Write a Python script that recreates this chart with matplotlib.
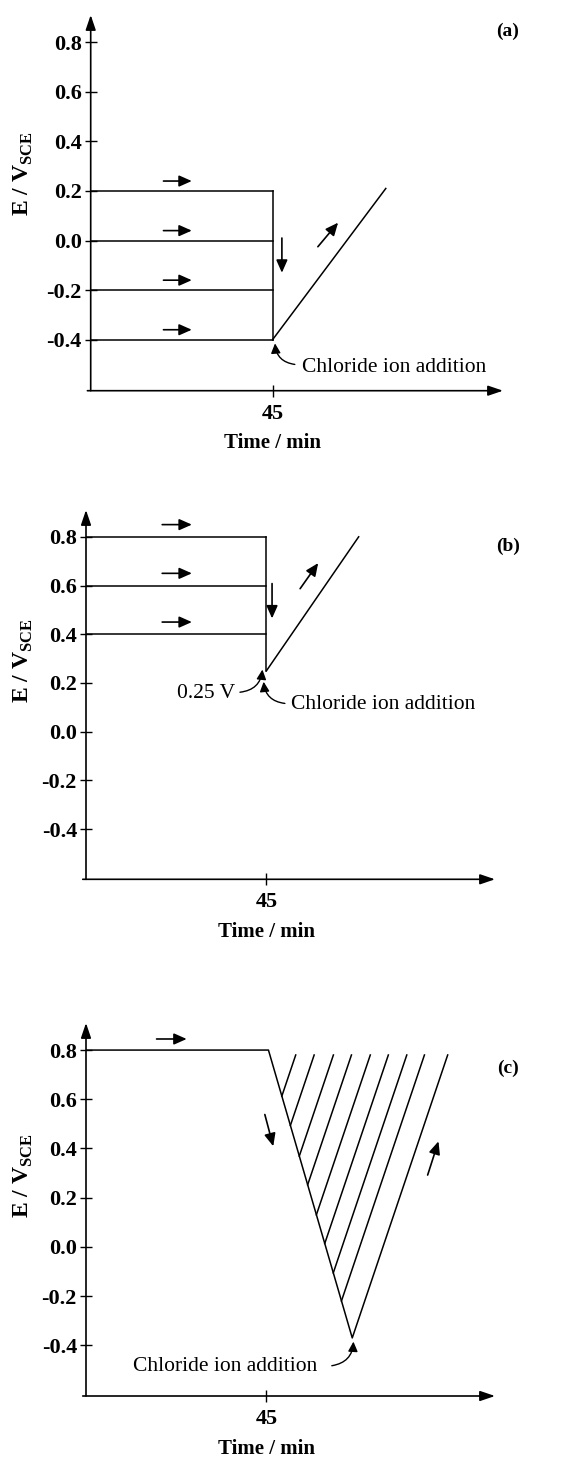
import numpy as np
import matplotlib
matplotlib.use('Agg')
from matplotlib import pyplot as plt

plt.rcParams['font.family'] = ['Liberation Serif', 'DejaVu Serif']
plt.rcParams['mathtext.fontset'] = 'custom'
plt.rcParams['mathtext.rm'] = 'Liberation Serif'
plt.rcParams['mathtext.bf'] = 'Liberation Serif:bold'

# --- data ---
y_ticks = [0.8, 0.6, 0.4, 0.2, 0.0, -0.2, -0.4]
y_tick_labels = ['0.8', '0.6', '0.4', '0.2', '0.0', '-0.2', '-0.4']
x_ticks = [45]
x_tick_labels = ['45']
t_add = 45  # chloride addition time (min)

# (a) hold potentials, then step down and ramp up
a_hold = [0.2, 0.0, -0.2, -0.4]
a_drop_to = -0.4
a_ramp_end = (73, 0.21)

# (b)
b_hold = [0.8, 0.6, 0.4]
b_drop_to = 0.25
b_ramp_end = (68, 0.8)

# (c) triangle sweep with hatching
c_time = [0, 45.5, 66.4, 90.2]
c_pot = [0.8, 0.8, -0.37, 0.78]
c_hatch_top = [52.3, 56.9, 61.7, 66.2, 70.9, 75.4, 80.0, 84.4]

W, H = 580, 1457
fig = plt.figure(figsize=(W / 100, H / 100), dpi=100)

LW = 1.1
TICK_FS = 16


def make_axes(left, base, width, height, tag, tag_y, ylab_y):
    ax = fig.add_axes([left / W, 1 - base / H, width / W, height / H])
    ax.set_xlim(0, 102)
    ax.set_ylim(-0.606, 0.91)
    for s in ax.spines.values():
        s.set_visible(False)
    ax.set_yticks(y_ticks)
    ax.set_yticklabels(y_tick_labels, fontsize=TICK_FS, fontweight='bold')
    ax.set_xticks(x_ticks)
    ax.set_xticklabels(x_tick_labels, fontsize=TICK_FS, fontweight='bold')
    ax.tick_params(axis='y', direction='inout', length=9, width=1, pad=2)
    ax.tick_params(axis='x', direction='inout', length=9, width=1, pad=5)
    ax.patch.set_alpha(0)
    ap = dict(arrowstyle='-|>,head_length=0.5,head_width=0.17', color='black',
              lw=1.2, mutation_scale=18, shrinkA=0, shrinkB=0)
    ax.annotate('', xy=(1, 0), xytext=(-0.008, 0), xycoords='axes fraction',
                arrowprops=ap, annotation_clip=False)
    ax.annotate('', xy=(0, 1), xytext=(0, 0), xycoords='axes fraction',
                arrowprops=ap, annotation_clip=False)
    ax.annotate('Time / min', xy=(t_add, 0), xycoords=('data', 'axes fraction'),
                xytext=(0, -38), textcoords='offset points', ha='center', va='center',
                fontsize=15, fontweight='bold', annotation_clip=False)
    fig.text(508 / W, 1 - tag_y / H, tag, ha='center', va='center',
             fontsize=14, fontweight='bold')
    fig.text(23 / W, 1 - ylab_y / H, r'E / V$_{\mathbf{SCE}}$', rotation=90,
             ha='center', va='center', fontsize=17, fontweight='bold')
    return ax


def dir_arrow(ax, t0, v0, t1, v1):
    ax.annotate('', xy=(t1, v1), xytext=(t0, v0),
                arrowprops=dict(arrowstyle='-|>,head_length=0.45,head_width=0.2',
                                color='black', lw=1.2,
                                mutation_scale=17, shrinkA=0, shrinkB=0))


def curved_note(ax, text, t_txt, v_txt, ha, t0, v0, t1, v1, rad):
    ax.text(t_txt, v_txt, text, ha=ha, va='center', fontsize=15.5)
    ax.annotate('', xy=(t1, v1), xytext=(t0, v0),
                arrowprops=dict(arrowstyle='-|>,head_length=0.45,head_width=0.22',
                                color='black', lw=1.0,
                                mutation_scale=13, shrinkA=0, shrinkB=0,
                                connectionstyle=f'arc3,rad={rad}'))


# ---------------- (a) ----------------
ax = make_axes(90.7, 390.7, 412.3, 375.7, '(a)', 31.7, 174)
for v in a_hold:
    ax.plot([0, t_add], [v, v], color='black', lw=LW)
    dir_arrow(ax, 18, v + 0.04, 25, v + 0.04)
ax.plot([t_add, t_add], [max(a_hold), a_drop_to], color='black', lw=LW)
ax.plot([t_add, a_ramp_end[0]], [a_drop_to, a_ramp_end[1]], color='black', lw=LW)
dir_arrow(ax, 47.3, 0.01, 47.3, -0.13)
dir_arrow(ax, 56.2, -0.025, 61.2, 0.072)
curved_note(ax, 'Chloride ion addition', 52.2, -0.513, 'left',
            50.5, -0.50, 45.6, -0.415, -0.4)

# ---------------- (b) ----------------
ax = make_axes(86, 879.3, 409, 369.3, '(b)', 546.7, 661)
for v in b_hold:
    ax.plot([0, t_add], [v, v], color='black', lw=LW)
    dir_arrow(ax, 19, v + 0.05, 26.4, v + 0.05)
ax.plot([t_add, t_add], [max(b_hold), b_drop_to], color='black', lw=LW)
ax.plot([t_add, b_ramp_end[0]], [b_drop_to, b_ramp_end[1]], color='black', lw=LW)
dir_arrow(ax, 46.4, 0.608, 46.4, 0.465)
dir_arrow(ax, 53.4, 0.587, 57.9, 0.692)
curved_note(ax, '0.25 V', 37.2, 0.158, 'right', 38.4, 0.162, 44.0, 0.255, 0.4)
curved_note(ax, 'Chloride ion addition', 51.1, 0.112, 'left',
            49.6, 0.116, 44.3, 0.205, -0.4)

# ---------------- (c) ----------------
ax = make_axes(86, 1396, 409, 373, '(c)', 1068.3, 1176)
ax.plot(c_time, c_pot, color='black', lw=LW)
s_dn = (c_pot[2] - c_pot[1]) / (c_time[2] - c_time[1])
s_up = (c_pot[3] - c_pot[2]) / (c_time[3] - c_time[2])
for tt in c_hatch_top:
    # where the hatch line (parallel to the up-sweep) meets the down-sweep
    tb = (c_pot[3] - s_up * tt - c_pot[1] + s_dn * c_time[1]) / (s_dn - s_up)
    vb = c_pot[1] + s_dn * (tb - c_time[1])
    ax.plot([tb, tt], [vb, c_pot[3]], color='black', lw=LW)
dir_arrow(ax, 17.6, 0.845, 25.1, 0.845)
dir_arrow(ax, 44.6, 0.538, 46.7, 0.409)
dir_arrow(ax, 85.2, 0.292, 87.9, 0.429)
curved_note(ax, 'Chloride ion addition', 11.8, -0.486, 'left',
            61.3, -0.483, 66.7, -0.385, 0.4)

fig.savefig('out.png', dpi=100)
